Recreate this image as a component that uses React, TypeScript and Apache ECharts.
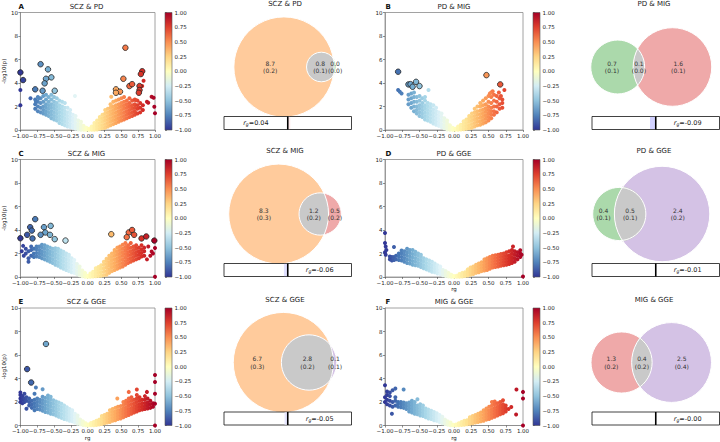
import React, { useEffect, useRef } from "react";
import * as echarts from "echarts";

// ---------------- DATA ----------------
const PANEL_LETTERS = ["A", "B", "C", "D", "E", "F"];
const PANEL_NAMES = ["SCZ & PD", "PD & MIG", "SCZ & MIG", "PD & GGE", "SCZ & GGE", "MIG & GGE"];

// scatter clouds: [rg, list of -log10(p) values]
const A_CLOUD: [number, number[]][] = [
  [-0.78, [1.8, 2.2, 2.6]], [-0.74, [1.6, 2.0, 2.4, 2.8]], [-0.70, [1.5, 1.9, 2.3, 2.7]],
  [-0.66, [1.4, 1.7, 2.0, 2.4, 2.9]], [-0.62, [1.3, 1.6, 1.9, 2.2, 2.6, 3.0]], [-0.58, [1.2, 1.5, 1.8, 2.1, 2.4, 2.8]],
  [-0.54, [1.0, 1.3, 1.6, 1.9, 2.2, 2.6, 3.0]], [-0.50, [0.9, 1.2, 1.5, 1.8, 2.1, 2.4, 2.8]],
  [-0.46, [0.8, 1.1, 1.4, 1.7, 2.0, 2.3, 2.7]], [-0.42, [0.6, 0.9, 1.2, 1.5, 1.8, 2.1, 2.5]],
  [-0.38, [0.5, 0.8, 1.1, 1.4, 1.7, 2.0, 2.4]], [-0.34, [0.4, 0.7, 1.0, 1.3, 1.6, 1.9, 2.3]],
  [-0.30, [0.3, 0.6, 0.9, 1.2, 1.5, 1.9]], [-0.26, [0.25, 0.5, 0.8, 1.1, 1.4, 1.7]],
  [-0.22, [0.2, 0.4, 0.7, 1.0, 1.3]], [-0.18, [0.1, 0.35, 0.6, 0.9, 1.2]], [-0.14, [0.05, 0.3, 0.5, 0.8]],
  [-0.10, [0.03, 0.2, 0.45, 0.7]], [-0.06, [0.02, 0.15, 0.35]], [-0.02, [0.01, 0.1, 0.2]],
  [0.02, [0.01, 0.1]], [0.06, [0.02, 0.15, 0.3]], [0.10, [0.03, 0.2, 0.4, 0.6]], [0.14, [0.05, 0.3, 0.55, 0.8]],
  [0.18, [0.1, 0.35, 0.6, 0.9, 1.1]], [0.22, [0.15, 0.4, 0.7, 1.0, 1.3]], [0.26, [0.2, 0.5, 0.8, 1.1, 1.4, 1.7]],
  [0.30, [0.3, 0.6, 0.9, 1.2, 1.5, 1.8]], [0.34, [0.4, 0.7, 1.0, 1.3, 1.6, 1.9, 2.2]],
  [0.38, [0.5, 0.8, 1.1, 1.4, 1.7, 2.0, 2.4]], [0.42, [0.6, 0.9, 1.2, 1.5, 1.8, 2.1, 2.5]],
  [0.46, [0.7, 1.0, 1.3, 1.6, 1.9, 2.2, 2.6]], [0.50, [0.8, 1.1, 1.4, 1.7, 2.0, 2.3, 2.7]],
  [0.54, [0.9, 1.2, 1.5, 1.8, 2.1, 2.4, 2.8]], [0.58, [1.0, 1.3, 1.6, 1.9, 2.2, 2.5]],
  [0.62, [1.1, 1.4, 1.7, 2.0, 2.3, 2.7]], [0.66, [1.2, 1.5, 1.8, 2.1, 2.5]], [0.70, [1.3, 1.6, 1.9, 2.2, 2.6]],
  [0.74, [1.4, 1.8, 2.1, 2.5]], [0.78, [1.5, 1.9, 2.3]], [0.82, [1.7, 2.1]],
];
const A_EXTRA: [number, number][] = [
  [-1.0, 2.1], [-1.0, 3.4], [-0.85, 2.7], [-0.77, 2.4], [-0.73, 2.7], [-0.19, 2.9], [0.35, 2.83],
  [0.83, 4.19], [0.81, 3.74], [0.95, 2.83], [0.98, 2.75], [0.88, 2.4], [0.90, 2.32], [0.99, 1.98], [1.0, 1.42], [0.71, 2.55],
];
const A_SIG: [number, number][] = [
  [0.56, 7.0], [-0.70, 5.6], [-0.59, 5.16], [-0.54, 4.48], [-0.62, 4.36], [-0.64, 3.97], [-0.78, 3.46],
  [-0.67, 3.34], [-0.49, 3.34], [0.53, 4.36], [0.42, 3.46], [0.48, 3.26], [0.42, 3.17], [0.62, 3.74],
  [0.66, 3.9], [0.81, 5.0], [0.79, 4.76], [0.77, 3.74], [0.77, 3.4], [0.76, 3.17], [-1.0, 4.9], [-0.96, 4.25],
];

const B_CLOUD: [number, number[]][] = [
  [-0.66, [2.2, 2.6, 3.0]], [-0.62, [1.9, 2.3, 2.7, 3.1]], [-0.58, [1.6, 2.0, 2.4, 2.8, 3.2]],
  [-0.54, [1.4, 1.7, 2.0, 2.4, 2.8]], [-0.50, [1.2, 1.5, 1.8, 2.1, 2.5, 2.9]], [-0.46, [1.1, 1.4, 1.7, 2.0, 2.3, 2.7]],
  [-0.42, [0.9, 1.2, 1.5, 1.8, 2.1, 2.5, 2.8]], [-0.38, [0.8, 1.1, 1.4, 1.7, 2.0, 2.3]],
  [-0.34, [0.7, 1.0, 1.3, 1.6, 1.9, 2.2]], [-0.30, [0.55, 0.85, 1.15, 1.45, 1.75, 2.1]],
  [-0.26, [0.45, 0.7, 1.0, 1.3, 1.6, 1.9]], [-0.22, [0.35, 0.6, 0.9, 1.2, 1.5]], [-0.18, [0.25, 0.5, 0.8, 1.1, 1.4]],
  [-0.14, [0.15, 0.4, 0.7, 1.0]], [-0.10, [0.05, 0.3, 0.55, 0.8]], [-0.06, [0.03, 0.2, 0.4]], [-0.02, [0.01, 0.1, 0.2]],
  [0.02, [0.01, 0.1]], [0.06, [0.02, 0.15, 0.3]], [0.10, [0.04, 0.25, 0.45]], [0.14, [0.06, 0.3, 0.55, 0.75]],
  [0.18, [0.1, 0.35, 0.6, 0.9]], [0.22, [0.15, 0.4, 0.7, 1.0, 1.2]], [0.26, [0.2, 0.5, 0.8, 1.1, 1.4]],
  [0.30, [0.3, 0.6, 0.9, 1.2, 1.5, 1.8]], [0.34, [0.4, 0.7, 1.0, 1.3, 1.6, 2.0]],
  [0.38, [0.45, 0.75, 1.05, 1.35, 1.65, 2.0, 2.3]], [0.42, [0.55, 0.85, 1.15, 1.45, 1.75, 2.1, 2.5]],
  [0.46, [0.65, 0.95, 1.25, 1.55, 1.85, 2.2, 2.7]], [0.50, [0.8, 1.1, 1.4, 1.7, 2.0, 2.4, 2.9]],
  [0.54, [1.0, 1.3, 1.6, 1.9, 2.3, 2.8, 3.2]], [0.58, [1.3, 1.6, 2.0, 2.5, 3.0]], [0.62, [1.5, 2.0, 2.4, 2.9]],
  [0.66, [1.8, 2.2, 2.7]], [0.70, [2.3, 2.6]],
];
const B_EXTRA: [number, number][] = [
  [-0.81, 3.4], [-0.785, 3.26], [-0.76, 3.1], [-0.37, 3.4], [0.73, 3.4], [0.70, 1.9], [0.68, 2.9], [0.65, 3.2], [0.56, 3.3], [0.52, 3.1],
];
const B_SIG: [number, number][] = [
  [-0.81, 4.96], [-0.66, 3.88], [-0.63, 3.9], [-0.60, 3.68], [-0.55, 4.1], [-0.50, 3.74], [0.47, 4.67], [0.67, 3.88],
];

const C_CLOUD: [number, number[]][] = [
  [-0.96, [2.65]], [-0.92, [2.0, 2.4]], [-0.88, [1.3, 1.6, 2.2]], [-0.84, [1.8, 2.3, 2.6]], [-0.80, [1.7, 2.0, 2.4]],
  [-0.76, [1.75, 2.05, 2.35, 2.6]], [-0.72, [1.7, 2.0, 2.3, 2.6]], [-0.68, [1.6, 1.9, 2.2, 2.5, 2.75]],
  [-0.64, [1.5, 1.8, 2.1, 2.4, 2.7]], [-0.60, [1.4, 1.7, 2.0, 2.3, 2.6]], [-0.56, [1.3, 1.6, 1.9, 2.2, 2.5]],
  [-0.52, [1.2, 1.5, 1.8, 2.1, 2.4]], [-0.48, [1.05, 1.35, 1.65, 1.95, 2.25, 2.45]],
  [-0.44, [0.95, 1.25, 1.55, 1.85, 2.15, 2.4]], [-0.40, [0.8, 1.1, 1.4, 1.7, 2.0, 2.25]],
  [-0.36, [0.7, 1.0, 1.3, 1.6, 1.9, 2.15]], [-0.32, [0.6, 0.9, 1.2, 1.5, 1.8, 2.0]],
  [-0.28, [0.5, 0.8, 1.1, 1.4, 1.7, 1.9]], [-0.24, [0.4, 0.7, 1.0, 1.3, 1.6]], [-0.20, [0.35, 0.6, 0.9, 1.2, 1.45]],
  [-0.16, [0.25, 0.5, 0.8, 1.1]], [-0.12, [0.15, 0.4, 0.65, 0.9]], [-0.08, [0.06, 0.3, 0.55]], [-0.04, [0.03, 0.2, 0.35]],
  [0.00, [0.01, 0.1]], [0.04, [0.02, 0.15, 0.3]], [0.08, [0.04, 0.25, 0.45]], [0.12, [0.06, 0.3, 0.55, 0.75]],
  [0.16, [0.08, 0.35, 0.6, 0.85]], [0.20, [0.1, 0.4, 0.7, 1.0]], [0.24, [0.15, 0.45, 0.75, 1.05, 1.3]],
  [0.28, [0.2, 0.5, 0.8, 1.1, 1.4, 1.55]], [0.32, [0.35, 0.65, 0.95, 1.25, 1.55, 1.8]],
  [0.36, [0.5, 0.8, 1.1, 1.4, 1.7, 2.0]], [0.40, [0.6, 0.9, 1.2, 1.5, 1.8, 2.1, 2.3]],
  [0.44, [0.7, 1.0, 1.3, 1.6, 1.9, 2.2, 2.5]], [0.48, [0.8, 1.1, 1.4, 1.7, 2.0, 2.3, 2.6]],
  [0.52, [0.9, 1.2, 1.5, 1.8, 2.1, 2.4, 2.75]], [0.56, [1.05, 1.35, 1.65, 1.95, 2.25, 2.55, 2.9]],
  [0.60, [1.2, 1.5, 1.8, 2.1, 2.4, 2.7]], [0.64, [1.3, 1.6, 1.9, 2.2, 2.5, 2.9]], [0.68, [1.4, 1.7, 2.0, 2.3, 2.6]],
  [0.72, [1.5, 1.8, 2.1, 2.4, 2.7]], [0.76, [1.6, 1.9, 2.2, 2.5]], [0.80, [1.75, 2.05, 2.35, 2.7]], [0.84, [1.8, 2.2, 2.5]],
];
const C_EXTRA: [number, number][] = [
  [0.9, 2.6], [0.95, 2.17], [1.0, 2.46], [0.93, 1.8], [0.97, 2.0], [0.88, 1.5], [1.0, 0.02], [-0.98, 2.2], [-0.95, 1.8],
];
const C_SIG: [number, number][] = [
  [-0.78, 4.92], [-0.855, 4.24], [-0.83, 3.95], [-0.90, 3.59], [-0.82, 3.28], [-0.65, 4.24], [-0.55, 4.35],
  [-0.63, 3.79], [-0.70, 3.59], [-0.56, 3.59], [-0.49, 3.22], [-0.33, 3.1], [0.35, 3.64], [0.61, 3.79],
  [0.66, 4.0], [0.69, 3.59], [0.58, 3.39], [0.80, 3.28], [0.87, 3.45], [0.99, 3.1], [-1.0, 3.3],
];

const D_CLOUD: [number, number[]][] = [
  [-1.0, [3.75, 2.9, 2.1]], [-0.99, [2.6, 1.9]], [-0.98, [2.3]],
  [-0.93, [1.5, 1.75]], [-0.90, [1.4, 1.7]], [-0.87, [1.45, 1.7, 2.55]], [-0.84, [1.5, 1.8]],
  [-0.80, [1.45, 1.75, 2.0]], [-0.76, [1.4, 1.7, 2.0, 2.25]], [-0.72, [1.3, 1.6, 1.9, 2.2]],
  [-0.68, [1.2, 1.5, 1.8, 2.1, 2.4]], [-0.64, [1.15, 1.45, 1.75, 2.05, 2.3]], [-0.60, [1.05, 1.35, 1.65, 1.95, 2.3]],
  [-0.56, [1.0, 1.3, 1.6, 1.9, 2.15]], [-0.52, [0.95, 1.2, 1.5, 1.8, 2.0]], [-0.48, [0.85, 1.1, 1.4, 1.7, 1.9]],
  [-0.44, [0.75, 1.0, 1.3, 1.6]], [-0.40, [0.65, 0.9, 1.2, 1.5]], [-0.36, [0.55, 0.8, 1.1, 1.4]],
  [-0.32, [0.45, 0.7, 1.0, 1.3]], [-0.28, [0.4, 0.65, 0.9, 1.15]], [-0.24, [0.3, 0.55, 0.8, 1.0]],
  [-0.20, [0.25, 0.5, 0.75, 0.9]], [-0.16, [0.15, 0.4, 0.6]], [-0.12, [0.08, 0.3, 0.5]], [-0.08, [0.04, 0.2, 0.35]],
  [-0.04, [0.02, 0.12, 0.2]], [0.00, [0.01, 0.08]], [0.04, [0.02, 0.1]], [0.08, [0.03, 0.15, 0.25]],
  [0.12, [0.05, 0.2, 0.35]], [0.16, [0.08, 0.25, 0.4]], [0.20, [0.12, 0.3, 0.5, 0.65]], [0.24, [0.2, 0.4, 0.6, 0.8]],
  [0.28, [0.25, 0.45, 0.7, 0.9]], [0.32, [0.35, 0.55, 0.8, 1.05]], [0.36, [0.4, 0.65, 0.9, 1.15]],
  [0.40, [0.5, 0.75, 1.0, 1.25]], [0.44, [0.55, 0.8, 1.05, 1.3, 1.5]], [0.48, [0.6, 0.85, 1.1, 1.35, 1.6]],
  [0.52, [0.7, 0.95, 1.2, 1.45, 1.7]], [0.56, [0.8, 1.05, 1.3, 1.55, 1.8]], [0.60, [0.85, 1.1, 1.35, 1.6, 1.85]],
  [0.64, [0.9, 1.15, 1.4, 1.65, 1.9]], [0.68, [0.95, 1.2, 1.45, 1.7, 1.95]], [0.72, [1.0, 1.25, 1.5, 1.75, 2.0]],
  [0.76, [1.05, 1.3, 1.55, 1.8, 2.1]], [0.80, [1.1, 1.35, 1.6, 1.85, 2.2]], [0.84, [1.2, 1.45, 1.7, 2.0, 2.3]],
  [0.88, [1.3, 1.6, 1.9, 2.2]], [0.92, [1.5, 1.8, 2.1]], [0.96, [1.7, 2.0, 2.27]],
];
const D_EXTRA: [number, number][] = [[0.855, 2.6], [1.0, 0.05], [0.98, 1.9]];
const D_SIG: [number, number][] = [];

const E_CLOUD: [number, number[]][] = [
  [-1.0, [2.0, 2.3, 2.6, 2.8]], [-0.97, [1.9, 2.2, 2.5]], [-0.94, [2.0, 2.3, 2.7]], [-0.91, [1.43, 2.1, 2.4]],
  [-0.87, [1.7, 2.0, 2.3]], [-0.83, [1.5, 1.8, 2.1]], [-0.79, [1.3, 1.6, 1.9, 2.2, 2.7]], [-0.75, [1.4, 1.7, 2.0, 2.3]],
  [-0.71, [1.35, 1.65, 1.95, 2.2]], [-0.67, [1.25, 1.55, 1.85, 2.15, 2.45]], [-0.63, [1.15, 1.45, 1.75, 2.05, 2.35]],
  [-0.59, [1.1, 1.4, 1.7, 2.0, 2.3, 2.55]], [-0.55, [1.0, 1.3, 1.6, 1.9, 2.2, 2.45]],
  [-0.51, [0.95, 1.25, 1.55, 1.85, 2.15]], [-0.47, [0.85, 1.15, 1.45, 1.75, 2.05]],
  [-0.43, [0.75, 1.05, 1.35, 1.65, 1.95]], [-0.39, [0.65, 0.95, 1.25, 1.55, 1.85]],
  [-0.35, [0.55, 0.85, 1.15, 1.45, 1.7]], [-0.31, [0.5, 0.75, 1.0, 1.3, 1.55]], [-0.27, [0.4, 0.65, 0.9, 1.15, 1.4]],
  [-0.23, [0.35, 0.6, 0.85, 1.1, 1.3]], [-0.19, [0.25, 0.5, 0.75, 1.0]], [-0.15, [0.15, 0.4, 0.65, 0.85]],
  [-0.11, [0.1, 0.3, 0.5]], [-0.07, [0.05, 0.2, 0.35]], [-0.03, [0.02, 0.1, 0.2]],
  [0.01, [0.01, 0.08]], [0.05, [0.02, 0.12, 0.22]], [0.09, [0.03, 0.15, 0.3]], [0.13, [0.05, 0.2, 0.4]],
  [0.17, [0.08, 0.3, 0.5]], [0.21, [0.12, 0.35, 0.6, 0.8]], [0.25, [0.18, 0.4, 0.65, 0.9]], [0.29, [0.25, 0.5, 0.75, 1.0]],
  [0.33, [0.3, 0.55, 0.8, 1.05, 1.3]], [0.37, [0.4, 0.65, 0.9, 1.15, 1.4]], [0.41, [0.45, 0.7, 0.95, 1.2, 1.5]],
  [0.45, [0.55, 0.8, 1.05, 1.3, 1.6]], [0.49, [0.6, 0.85, 1.1, 1.35, 1.65]], [0.53, [0.7, 0.95, 1.2, 1.45, 1.75, 2.0]],
  [0.57, [0.8, 1.05, 1.3, 1.55, 1.85, 2.1]], [0.61, [0.9, 1.15, 1.4, 1.7, 2.0, 2.3]],
  [0.65, [1.0, 1.25, 1.5, 1.8, 2.1, 2.4]], [0.69, [1.1, 1.35, 1.6, 1.9, 2.2]], [0.73, [1.2, 1.45, 1.7, 2.0, 2.3, 2.6]],
  [0.77, [1.3, 1.55, 1.8, 2.1, 2.4]], [0.81, [1.35, 1.6, 1.9, 2.2]], [0.85, [1.4, 1.65, 1.9, 2.2, 2.5]],
  [0.89, [1.45, 1.7, 1.95, 2.3]], [0.93, [1.5, 1.8, 2.1]], [0.97, [1.6, 1.9]],
];
const E_EXTRA: [number, number][] = [
  [-0.77, 3.23], [-0.67, 3.09], [0.44, 2.29], [0.73, 3.06], [0.61, 2.86], [0.88, 2.86], [1.0, 2.7], [1.0, 1.86],
  [1.0, 0.0], [1.0, 4.29], [1.0, 3.7],
];
const E_SIG: [number, number][] = [[-0.62, 6.94], [-0.90, 4.8], [-0.84, 3.66]];

const F_CLOUD: [number, number[]][] = [
  [-1.0, [2.0, 2.4, 3.43]], [-0.97, [1.8, 2.2, 2.6, 2.9]], [-0.93, [1.7, 2.1, 2.5, 2.8]], [-0.89, [1.6, 2.0, 3.0]],
  [-0.85, [1.7, 2.1, 2.4, 3.14]], [-0.81, [1.6, 1.9, 2.0]], [-0.77, [1.55, 1.8, 2.0]], [-0.73, [1.5, 1.75, 1.95, 3.06]],
  [-0.69, [1.4, 1.65, 1.9]], [-0.65, [1.2, 1.45, 1.7, 1.95]], [-0.61, [1.1, 1.35, 1.6, 1.85, 2.1]],
  [-0.57, [1.0, 1.25, 1.5, 1.75, 2.0]], [-0.53, [0.95, 1.2, 1.45, 1.7, 2.23]], [-0.49, [0.85, 1.1, 1.35, 1.6, 1.8]],
  [-0.45, [0.8, 1.0, 1.25, 1.5, 1.7]], [-0.41, [0.7, 0.95, 1.2, 1.45]], [-0.37, [0.6, 0.85, 1.1, 1.35]],
  [-0.33, [0.55, 0.8, 1.05, 1.25]], [-0.29, [0.45, 0.7, 0.95, 1.15]], [-0.25, [0.4, 0.6, 0.85, 1.05]],
  [-0.21, [0.3, 0.5, 0.75, 0.9]], [-0.17, [0.2, 0.4, 0.6, 0.75]], [-0.13, [0.12, 0.3, 0.5]], [-0.09, [0.06, 0.2, 0.35]],
  [-0.05, [0.02, 0.12, 0.25]], [-0.01, [0.01, 0.06]], [0.03, [0.01, 0.08]], [0.07, [0.02, 0.12, 0.2]],
  [0.11, [0.04, 0.15, 0.3]], [0.15, [0.06, 0.2, 0.4]], [0.19, [0.1, 0.25, 0.45]], [0.23, [0.14, 0.35, 0.55, 0.7]],
  [0.27, [0.2, 0.4, 0.6, 0.8]], [0.31, [0.25, 0.45, 0.7, 0.9]], [0.35, [0.3, 0.55, 0.8, 1.0]],
  [0.39, [0.35, 0.6, 0.85, 1.1]], [0.43, [0.4, 0.65, 0.9, 1.15, 1.3]], [0.47, [0.5, 0.75, 1.0, 1.25, 1.45]],
  [0.51, [0.55, 0.8, 1.05, 1.3, 1.6]], [0.55, [0.65, 0.9, 1.15, 1.4, 1.7, 2.0]], [0.59, [0.75, 1.0, 1.25, 1.5, 1.8, 2.05]],
  [0.63, [0.85, 1.1, 1.35, 1.6, 1.9]], [0.67, [0.95, 1.2, 1.45, 1.7, 2.0]], [0.71, [1.05, 1.3, 1.55, 1.8, 2.14]],
  [0.75, [1.2, 1.45, 1.7]],
];
const F_EXTRA: [number, number][] = [
  [0.83, 1.57], [0.9, 0.94], [0.905, 3.06], [1.0, 2.86], [1.0, 2.29], [1.0, 0.0], [-0.9, 1.0], [0.79, 1.4],
];
const F_SIG: [number, number][] = [];

// Venn subsets: [first-only, second-only, overlap] (h2 %) and standard errors
const VENN_SUBSETS: number[][] = [
  [8.7, 0.03, 0.8], [0.7, 1.6, 0.1], [8.3, 0.5, 1.2], [0.4, 2.4, 0.5], [6.7, 0.1, 2.8], [1.3, 2.5, 0.4],
];
const VENN_SE: number[][] = [
  [0.2, 0.0, 0.1], [0.1, 0.1, 0.0], [0.3, 0.2, 0.2], [0.1, 0.2, 0.1], [0.3, 0.1, 0.2], [0.2, 0.4, 0.2],
];
const RG_VALUES = [0.04, -0.09, -0.06, -0.01, -0.05, -0.004];

const CBAR_TICKS = [-1, -0.75, -0.5, -0.25, 0, 0.25, 0.5, 0.75, 1];

// ---------------- STYLE ----------------
const FONT = "DejaVu Sans";
const ORANGE = "#ffcb9c";
const GREEN = "#abd9ab";
const RED = "#efa9a9";
const PURPLE = "#d4c2e5";
const GRAY = "#c9c9c9";
const VENN_COLORS = [[ORANGE, GREEN], [GREEN, RED], [ORANGE, RED], [GREEN, PURPLE], [ORANGE, PURPLE], [RED, PURPLE]];

const RDYLBU_R = ["#313695", "#4575b4", "#74add1", "#abd9e9", "#e0f3f8", "#ffffbf", "#fee090", "#fdae61", "#f46d43", "#d73027", "#a50026"];

function hexRgb(h: string) {
  return [parseInt(h.slice(1, 3), 16), parseInt(h.slice(3, 5), 16), parseInt(h.slice(5, 7), 16)];
}
function cmap(v: number) {
  const t = Math.min(1, Math.max(0, (v + 1) / 2)) * (RDYLBU_R.length - 1);
  const i = Math.min(RDYLBU_R.length - 2, Math.floor(t));
  const f = t - i;
  const a = hexRgb(RDYLBU_R[i]);
  const b = hexRgb(RDYLBU_R[i + 1]);
  const c = a.map((x, k) => Math.round(x + (b[k] - x) * f));
  return `rgb(${c[0]},${c[1]},${c[2]})`;
}
function barColor(rg: number) {
  const t = Math.min(1, Math.abs(rg) * 2);
  const w = Math.round(255 - 255 * t);
  return rg < 0 ? `rgb(${w},${w},255)` : `rgb(255,${w},${w})`;
}
const fmt2 = (v: number) => (v < 0 ? "\u2212" : "") + Math.abs(v).toFixed(2);

// ---------------- VENN GEOMETRY ----------------
function interArea(ra: number, rb: number, d: number) {
  if (d >= ra + rb) return 0;
  if (d <= Math.abs(ra - rb)) return Math.PI * Math.min(ra, rb) ** 2;
  const a = ra * ra * Math.acos((d * d + ra * ra - rb * rb) / (2 * d * ra));
  const b = rb * rb * Math.acos((d * d + rb * rb - ra * ra) / (2 * d * rb));
  const c = 0.5 * Math.sqrt((-d + ra + rb) * (d + ra - rb) * (d - ra + rb) * (d + ra + rb));
  return a + b - c;
}
function vennGeom(sub: number[]) {
  const [a, b, ab] = sub;
  const tot = a + b + ab;
  const A = (a + ab) / tot, B = (b + ab) / tot, AB = ab / tot;
  const ra = Math.sqrt(A / Math.PI), rb = Math.sqrt(B / Math.PI);
  let lo = Math.abs(ra - rb), hi = ra + rb;
  for (let i = 0; i < 80; i++) {
    const mid = (lo + hi) / 2;
    if (interArea(ra, rb, mid) > AB) lo = mid; else hi = mid;
  }
  return { ra, rb, d: (lo + hi) / 2 };
}
function lensPts(ra: number, rb: number, d: number): [number, number][] {
  const n = 40;
  const pts: [number, number][] = [];
  if (d <= Math.abs(ra - rb) + 1e-9) {
    const r = Math.min(ra, rb), cx = ra < rb ? 0 : d;
    for (let i = 0; i < n * 2; i++) {
      const t = (i / (n * 2)) * Math.PI * 2;
      pts.push([cx + r * Math.cos(t), r * Math.sin(t)]);
    }
    return pts;
  }
  const x0 = (d * d + ra * ra - rb * rb) / (2 * d);
  const y0 = Math.sqrt(Math.max(0, ra * ra - x0 * x0));
  const ta = Math.atan2(y0, x0), tb = Math.atan2(y0, d - x0);
  for (let i = 0; i <= n; i++) {
    const g = ta - (2 * ta * i) / n;
    pts.push([ra * Math.cos(g), ra * Math.sin(g)]);
  }
  for (let i = 0; i <= n; i++) {
    const g = Math.PI + tb - (2 * tb * i) / n;
    pts.push([d + rb * Math.cos(g), rb * Math.sin(g)]);
  }
  return pts;
}

// ---------------- LAYOUT ----------------
const ROW_TOP = [12.5, 159.5, 308];
const SC_LEFT = [18, 385];
const SC_W = [137, 138];
const SC_H = 117.5;
const CB_LEFT = [165, 533];
const CB_W = 7;
const VENN_CX = [285, 654];
const VW = 143;
const VH = 118;
const BAR_LEFT = [224, 592];
const BAR_W = 127.5;
const BAR_H = 13;

const CLOUDS = [A_CLOUD, B_CLOUD, C_CLOUD, D_CLOUD, E_CLOUD, F_CLOUD];
const EXTRAS = [A_EXTRA, B_EXTRA, C_EXTRA, D_EXTRA, E_EXTRA, F_EXTRA];
const SIGS = [A_SIG, B_SIG, C_SIG, D_SIG, E_SIG, F_SIG];
const SHOW_XNAME = [false, false, false, true, true, true];

function flat(cols: [number, number[]][]) {
  const out: [number, number][] = [];
  cols.forEach(([x, ys]) => ys.forEach((y) => out.push([x, y])));
  return out;
}

function buildOption() {
  const grid: any[] = [];
  const xAxis: any[] = [];
  const yAxis: any[] = [];
  const series: any[] = [];
  const graphic: any[] = [];
  const txt = (size: number, extra: any = {}) => ({ fontSize: size, fontFamily: FONT, color: "#222", ...extra });

  for (let i = 0; i < 6; i++) {
    const row = Math.floor(i / 2), col = i % 2;
    const top = ROW_TOP[row];

    // ---- scatter ----
    let gi = grid.length;
    grid.push({ left: SC_LEFT[col], top, width: SC_W[col], height: SC_H, show: true, borderColor: "#8a8a8a", borderWidth: 0.8 });
    xAxis.push({
      gridIndex: gi, type: "value", min: -1, max: 1, interval: 0.25,
      axisLine: { show: true, onZero: false, lineStyle: { color: "#8a8a8a", width: 0.8 } },
      axisTick: { show: true, length: 2, lineStyle: { color: "#444", width: 0.6 } },
      axisLabel: { ...txt(5.5), margin: 2.5, interval: 0, formatter: fmt2, showMinLabel: true, showMaxLabel: true },
      splitLine: { show: false },
      name: SHOW_XNAME[i] ? "rg" : "", nameLocation: "middle", nameGap: 9, nameTextStyle: txt(5.5),
    });
    yAxis.push({
      gridIndex: gi, type: "value", min: 0, max: 10, interval: 2,
      axisLine: { show: true, onZero: false, lineStyle: { color: "#8a8a8a", width: 0.8 } },
      axisTick: { show: true, length: 2, lineStyle: { color: "#444", width: 0.6 } },
      axisLabel: { ...txt(5.5), margin: 2.5 },
      splitLine: { show: false },
      name: col === 0 ? "-log10(p)" : "", nameLocation: "middle", nameGap: 10, nameRotate: 90, nameTextStyle: txt(5.5),
    });
    series.push({
      type: "scatter", xAxisIndex: gi, yAxisIndex: gi, silent: true, symbolSize: 4,
      data: [...flat(CLOUDS[i]), ...EXTRAS[i]],
      itemStyle: { color: (p: any) => cmap(p.value[0]), opacity: 1 },
      z: 2,
    });
    series.push({
      type: "scatter", xAxisIndex: gi, yAxisIndex: gi, silent: true, symbolSize: 5.5,
      data: SIGS[i],
      itemStyle: { color: (p: any) => cmap(p.value[0]), borderColor: "#222", borderWidth: 0.8, opacity: 1 },
      z: 3,
    });
    graphic.push({ type: "text", x: SC_LEFT[col] + SC_W[col] / 2, y: top - 6, style: { text: PANEL_NAMES[i], ...txt(7), fill: "#222", align: "center", verticalAlign: "middle" } });
    graphic.push({ type: "text", x: SC_LEFT[col] + 0.5, y: top - 6, style: { text: PANEL_LETTERS[i], fontSize: 7, fontWeight: "bold", fontFamily: FONT, fill: "#111", align: "left", verticalAlign: "middle" } });

    // ---- colorbar ----
    gi = grid.length;
    grid.push({ left: CB_LEFT[col], top, width: CB_W, height: SC_H, show: false });
    xAxis.push({ gridIndex: gi, type: "value", min: 0, max: 1, show: false });
    yAxis.push({
      gridIndex: gi, type: "value", min: -1, max: 1, interval: 0.25, position: "right",
      axisLine: { show: false }, axisTick: { show: true, length: 2, lineStyle: { color: "#444", width: 0.6 } },
      axisLabel: { ...txt(5.5), margin: 2.5, formatter: fmt2 }, splitLine: { show: false },
    });
    series.push({
      type: "custom", xAxisIndex: gi, yAxisIndex: gi, silent: true, data: [[0, 0]],
      renderItem: (_p: any, api: any) => {
        const p0 = api.coord([0, -1]);
        const p1 = api.coord([1, 1]);
        const stops = CBAR_TICKS.map((v) => ({ offset: (v + 1) / 2, color: cmap(v) }));
        return {
          type: "rect",
          shape: { x: p0[0], y: p1[1], width: p1[0] - p0[0], height: p0[1] - p1[1] },
          style: { fill: new echarts.graphic.LinearGradient(0, 1, 0, 0, stops), stroke: "#555", lineWidth: 0.6 },
        };
      },
    });

    // ---- venn ----
    const sub = VENN_SUBSETS[i];
    const g = vennGeom(sub);
    const minx = Math.min(-g.ra, g.d - g.rb) - 0.1, maxx = Math.max(g.ra, g.d + g.rb) + 0.1;
    const R = Math.max(g.ra, g.rb);
    const miny = -R - 0.1, maxy = R + 0.1;
    const s = Math.min(VW / (maxx - minx), VH / (maxy - miny));
    const cxd = (minx + maxx) / 2;
    const xr = VW / s, yr = VH / s;
    const vcy = top + 54.5;
    gi = grid.length;
    grid.push({ left: VENN_CX[col] - VW / 2, top: vcy - VH / 2, width: VW, height: VH, show: false });
    xAxis.push({ gridIndex: gi, type: "value", min: cxd - xr / 2, max: cxd + xr / 2, show: false });
    yAxis.push({ gridIndex: gi, type: "value", min: -yr / 2, max: yr / 2, show: false });
    const [colA, colB] = VENN_COLORS[i];
    const se = VENN_SE[i];
    const lens = lensPts(g.ra, g.rb, g.d);
    const labX = [
      ((-g.ra) + (g.d - g.rb)) / 2,
      ((g.d - g.rb) + g.ra) / 2,
      (g.ra + (g.d + g.rb)) / 2,
    ];
    const labTxt = [
      `${sub[0].toFixed(1)}\n(${se[0].toFixed(1)})`,
      `${sub[2].toFixed(1)}\n(${se[2].toFixed(1)})`,
      `${sub[1].toFixed(1)}\n(${se[1].toFixed(1)})`,
    ];
    series.push({
      type: "custom", xAxisIndex: gi, yAxisIndex: gi, silent: true, data: [[0, 0]], z: 2,
      renderItem: (_p: any, api: any) => {
        const pA = api.coord([0, 0]);
        const pB = api.coord([g.d, 0]);
        const rA = api.size([g.ra, 0])[0];
        const rB = api.size([g.rb, 0])[0];
        const lp = lens.map((q) => api.coord(q));
        const children: any[] = [
          { type: "circle", shape: { cx: pA[0], cy: pA[1], r: rA }, style: { fill: colA } },
          { type: "circle", shape: { cx: pB[0], cy: pB[1], r: rB }, style: { fill: colB } },
          { type: "polygon", shape: { points: lp }, style: { fill: GRAY } },
          { type: "circle", shape: { cx: pA[0], cy: pA[1], r: rA }, style: { fill: "none", stroke: "#ffffff", lineWidth: 1 } },
          { type: "circle", shape: { cx: pB[0], cy: pB[1], r: rB }, style: { fill: "none", stroke: "#ffffff", lineWidth: 1 } },
        ];
        labX.forEach((lx, k) => {
          const p = api.coord([lx, 0]);
          children.push({
            type: "text", x: p[0], y: p[1],
            style: { text: labTxt[k], fontSize: 6, lineHeight: 7.5, fontFamily: FONT, fill: "#333", align: "center", verticalAlign: "middle" },
          });
        });
        return { type: "group", children };
      },
    });
    graphic.push({ type: "text", x: VENN_CX[col], y: top - 8.5, style: { text: PANEL_NAMES[i], ...txt(7), fill: "#222", align: "center", verticalAlign: "middle" } });

    // ---- rg bar ----
    const rg = RG_VALUES[i];
    gi = grid.length;
    grid.push({ left: BAR_LEFT[col], top: top + 104, width: BAR_W, height: BAR_H, show: false });
    xAxis.push({ gridIndex: gi, type: "value", min: -1, max: 1, show: false });
    yAxis.push({ gridIndex: gi, type: "value", min: 0, max: 1, show: false });
    series.push({
      type: "custom", xAxisIndex: gi, yAxisIndex: gi, silent: true, data: [[rg, 0]], z: 5,
      renderItem: (_p: any, api: any) => {
        const tl = api.coord([-1, 1]);
        const br = api.coord([1, 0]);
        const z0 = api.coord([0, 0]);
        const zr = api.coord([api.value(0), 1]);
        const tp = api.coord([rg > 0 ? -0.5 : 0.5, 0.5]);
        return {
          type: "group",
          children: [
            { type: "rect", shape: { x: tl[0], y: tl[1], width: br[0] - tl[0], height: br[1] - tl[1] }, style: { fill: "#ffffff", stroke: "#111", lineWidth: 0.8 } },
            { type: "rect", shape: { x: Math.min(z0[0], zr[0]), y: tl[1] + 0.4, width: Math.abs(zr[0] - z0[0]), height: br[1] - tl[1] - 0.8 }, style: { fill: barColor(rg) } },
            { type: "line", shape: { x1: z0[0], y1: tl[1], x2: z0[0], y2: br[1] }, style: { stroke: "#000", lineWidth: 1.6 } },
            {
              type: "text", x: tp[0], y: tp[1],
              style: {
                text: `{i|r}{s|g}{n|=${rg.toFixed(2)}}`,
                align: "center", verticalAlign: "middle",
                rich: {
                  i: { fontSize: 6.5, fontStyle: "italic", fontFamily: FONT, fill: "#222" },
                  s: { fontSize: 4.5, fontStyle: "italic", fontFamily: FONT, fill: "#222", padding: [3, 0, 0, 0] },
                  n: { fontSize: 6.5, fontFamily: FONT, fill: "#222" },
                },
              },
            },
          ],
        };
      },
    });
  }

  return { animation: false, backgroundColor: "#ffffff", grid, xAxis, yAxis, series, graphic };
}

export default function App() {
  const ref = useRef<HTMLDivElement>(null);
  useEffect(() => {
    if (!ref.current) return;
    const chart = echarts.init(ref.current, undefined, { renderer: "svg" });
    chart.setOption(buildOption() as any);
    return () => chart.dispose();
  }, []);
  return <div ref={ref} style={{ position: "fixed", left: 0, top: 0, width: 720, height: 442 }} />;
}
